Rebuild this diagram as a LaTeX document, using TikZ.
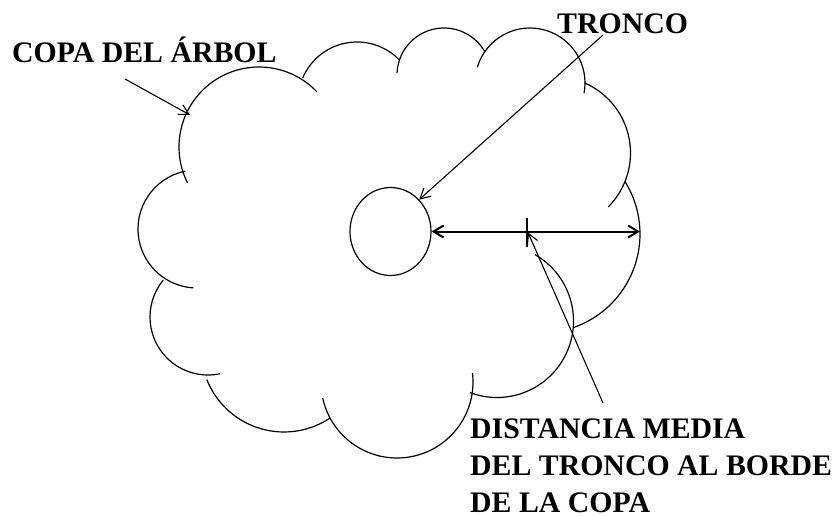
\documentclass[tikz,border=0pt]{standalone}
\usepackage{fontspec}
\setmainfont{Liberation Serif}
\usetikzlibrary{arrows.meta,shapes.geometric}

\tikzset{
  nube/.style={line width=1.2pt},
  flecha/.style={line width=1.1pt,-{Straight Barb[length=10pt,width=11pt]}},
  cota/.style={line width=2pt,{Straight Barb[length=10pt,width=12pt]}-{Straight Barb[length=10pt,width=12pt]}},
  rotulo/.style={inner sep=0pt,anchor=base west,align=left,font=\fontsize{29.8}{37}\selectfont\bfseries}
}

\begin{document}
\begin{tikzpicture}[x=1pt,y=1pt]
\useasboundingbox (0,0) rectangle (839,-515);

% copa: arcos sueltos
\foreach \cx/\cy/\r/\a/\b in {259/-147/80/206.6/43.5, 357/-101/59/156.9/43.6,
  444/-75/47/177.6/29.3, 530/-83/55/163.4/-10.8, 554/-153/76.5/66.6/-44.8,
  541/-234/99/32/-71.1, 497/-321/76.5/60.2/-110.7, 397/-382/76/6.7/-167.8,
  284/-349/83/-56.1/-158.3, 208/-317/58/140.5/282, 197/-229/59/101.4/266.5} {
  \draw[nube] (\cx,\cy) ++(\a:\r pt) arc[start angle=\a, end angle=\b, radius=\r pt];
}

% tronco
\node[draw,nube,ellipse,inner sep=0pt,minimum width=81pt,minimum height=88pt] (tronco) at (390.5,-231.5) {};

% textos (la base es la de la ultima linea)
\node[rotulo] (copa) at (12,-62) {COPA DEL ÁRBOL};
\node[rotulo] (troncotxt) at (557,-33) {TRONCO};
\node[rotulo] (distancia) at (470,-512) {DISTANCIA MEDIA\\DEL TRONCO AL BORDE\\DE LA COPA};

\coordinate (borde) at (640,-231.5);
\coordinate (medio) at (527,-231.5);
\coordinate (copapie) at (125,-79);
\coordinate (copaborde) at (190,-115);
\coordinate (troncopie) at (603,-35);
\coordinate (distpie) at (603,-403);

% cota
\draw[cota] (tronco.east) -- (borde);
\draw[line width=2pt] ([yshift=14pt]medio) -- ([yshift=-15pt]medio);

% flechas
\draw[flecha] (copapie) -- (copaborde);
\draw[flecha] (troncopie) -- (tronco.48);
\draw[flecha] (distpie) -- ([xshift=1pt,yshift=-1pt]medio);
\end{tikzpicture}
\end{document}
